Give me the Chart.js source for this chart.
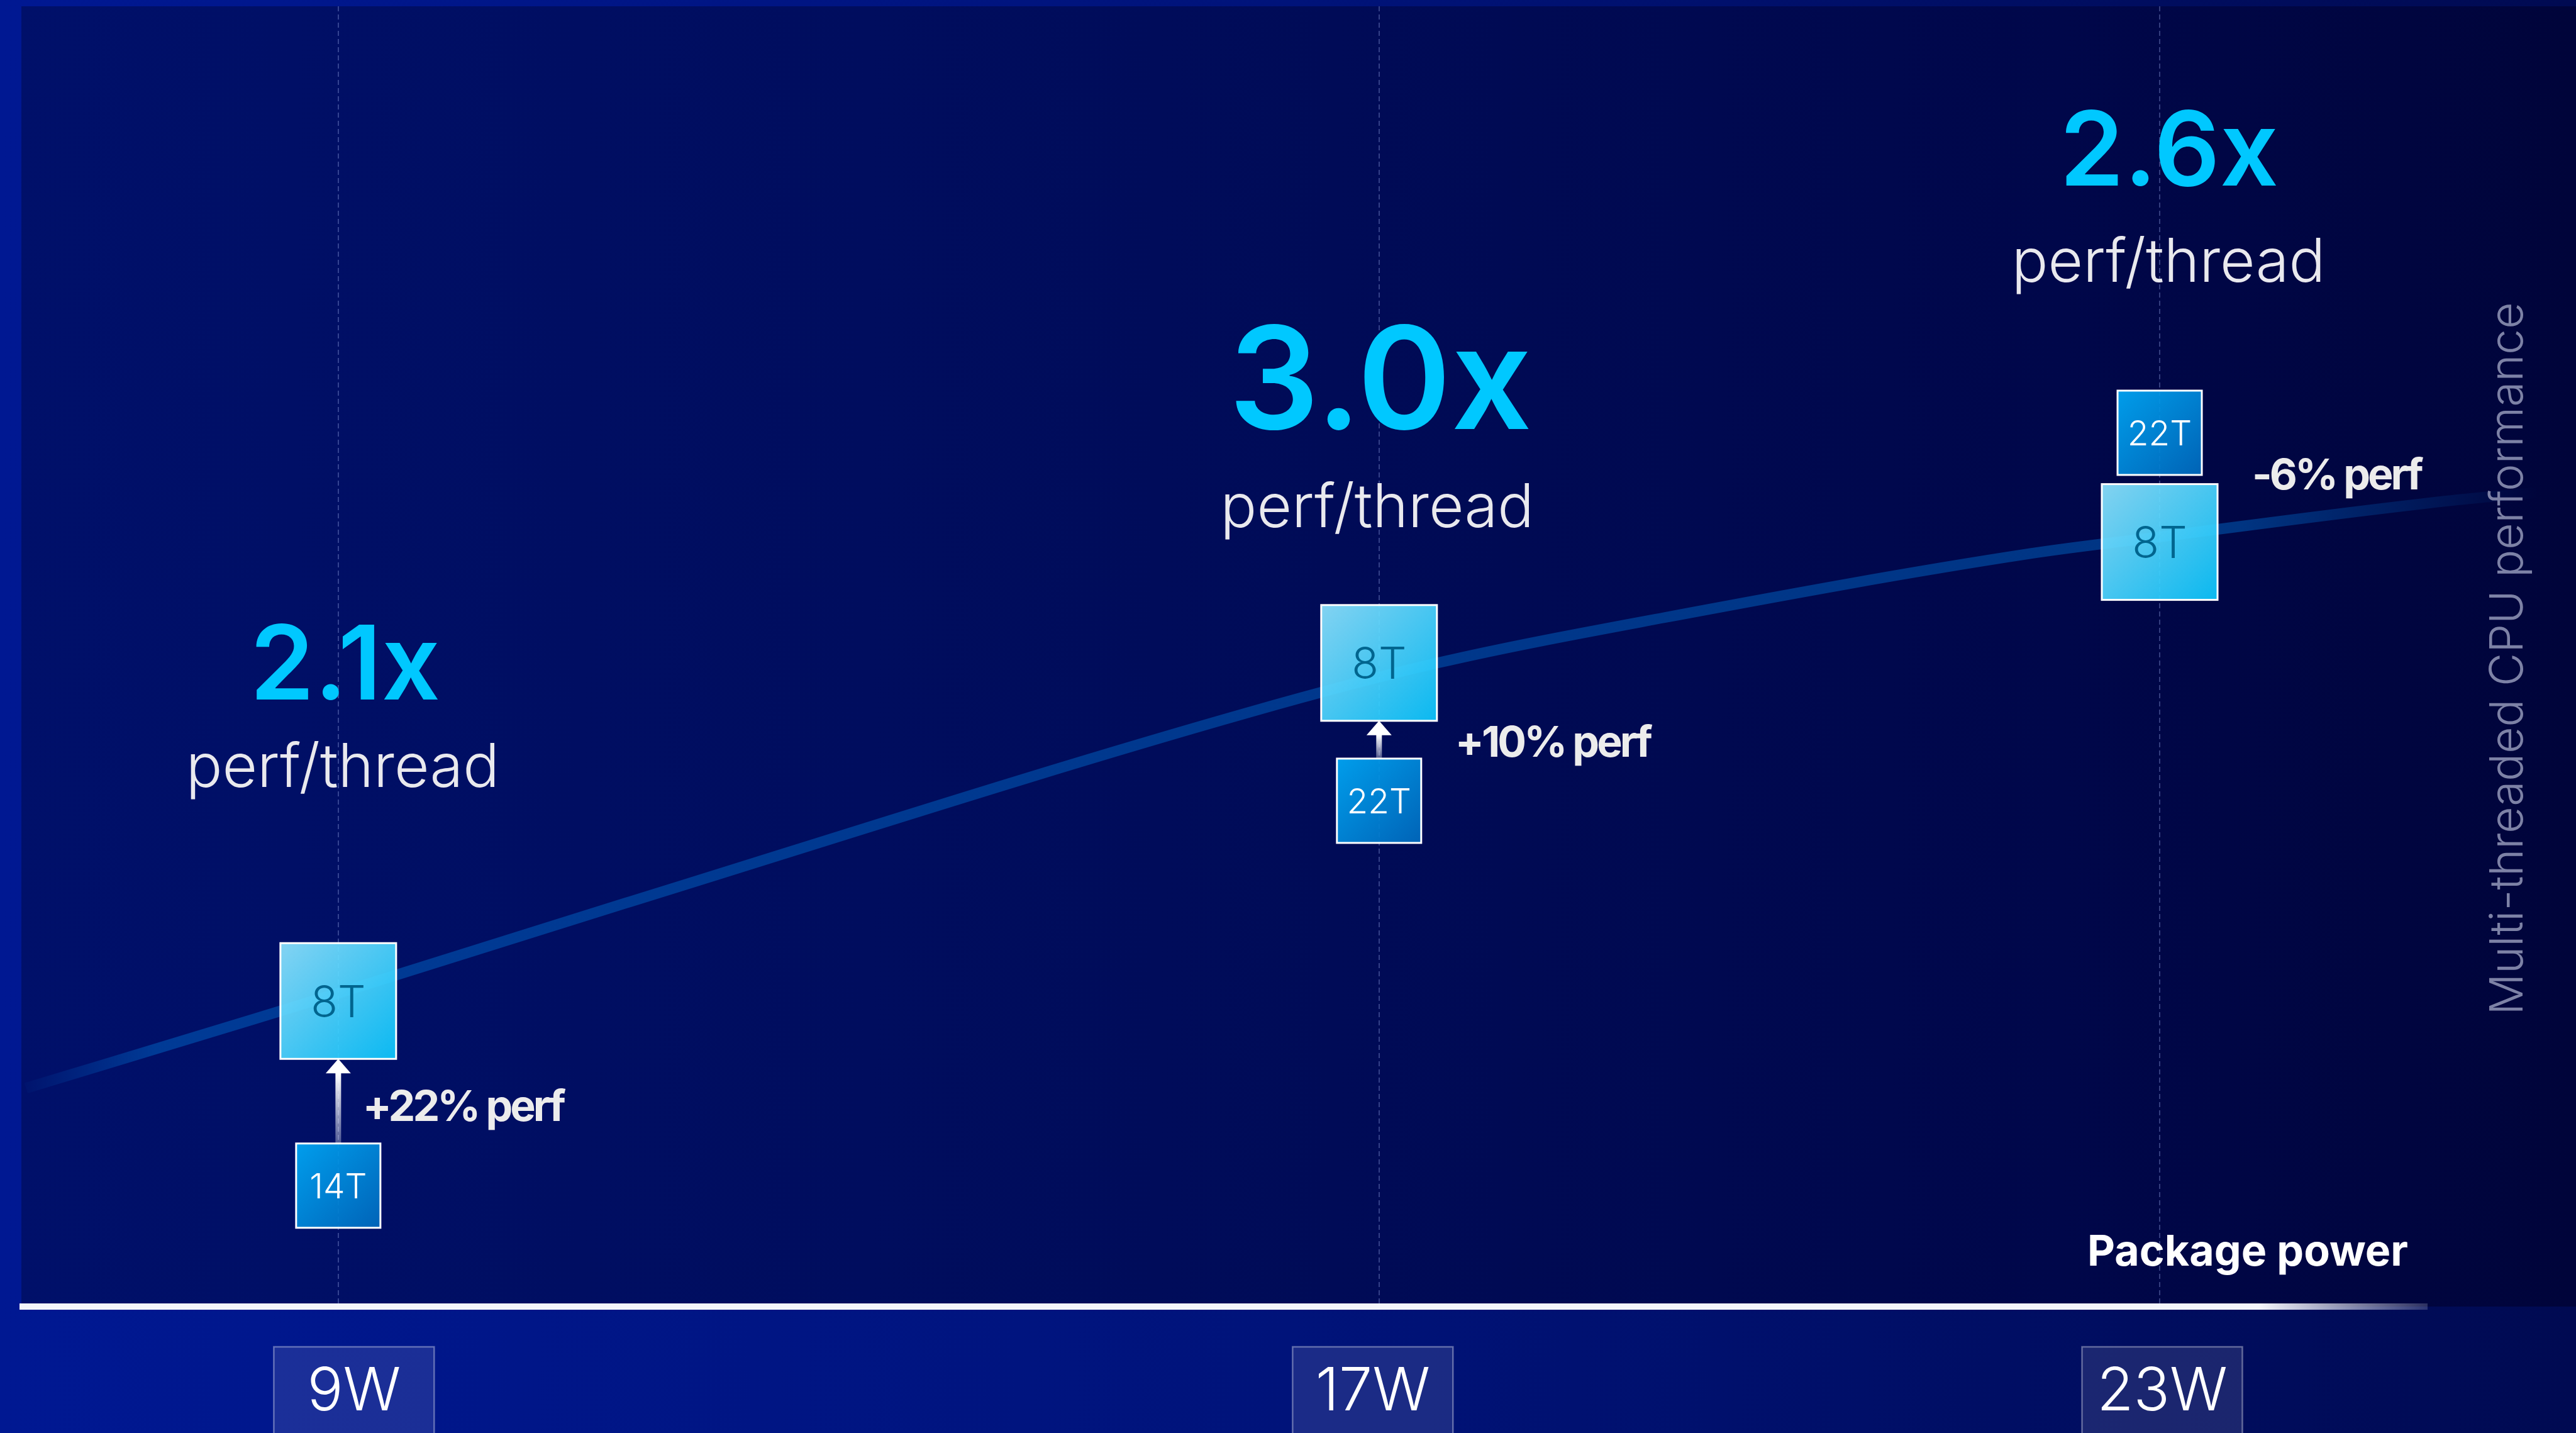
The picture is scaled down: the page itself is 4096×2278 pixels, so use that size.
<!DOCTYPE html>
<html>
<head>
<meta charset="utf-8">
<title>Package power vs multi-threaded CPU performance</title>
<script src="https://cdn.jsdelivr.net/npm/chart.js@4.4.1/dist/chart.umd.min.js"></script>
<style>
  html, body { margin: 0; padding: 0; background: #000c5c; overflow: hidden; }
  #wrap { width: 4096px; height: 2278px; }
</style>
</head>
<body>
<div id="wrap"><canvas id="perfChart" width="4096" height="2278"></canvas></div>
<script>
// Power points on the x axis (W)
const wattTicks = [9, 17, 23];
const wattLabels = ['9W', '17W', '23W'];

// Perf / power curve (relative MT performance index, 0-100)
const curveWatts = [6.6, 8.35, 9.0, 11.2, 16.0, 17.45, 19.2, 22.0, 23.0, 25.25, 25.9];
const curvePerf  = [16.8, 22.1, 24.1, 31.0, 45.7, 49.5, 53.0, 57.9, 59.2, 62.0, 62.6];

// Thread configurations at each power point
const fewThreadLabels  = ['8T', '8T', '8T'];
const fewThreadPerf    = [23.5, 49.5, 58.8];
const manyThreadLabels = ['14T', '22T', '22T'];
const manyThreadPerf   = [9.3, 38.9, 67.2];

const perfDeltaLabels = ['+22% perf', '+10% perf', '-6% perf'];
const perThreadGain   = ['2.1x', '3.0x', '2.6x'];

const FONT = 'Inter, "Noto Sans", sans-serif';
const BIG_BOX = 184;
const SMALL_BOX = 134;
const CAP = 0.727; // cap height / font size

// text placement around each power point (px, relative to the tick)
const callouts = [
    { gainDx: 11, gainY: 1112, gainSize: 164, subDx: 7,  subY: 1251, deltaDx: 39,  deltaY: 1782, tickDx: 25 },
    { gainDx: 2,  gainY: 682,  gainSize: 226, subDx: -3, subY: 838,  deltaDx: 121, deltaY: 1203, tickDx: -10 },
    { gainDx: 15, gainY: 295,  gainSize: 164, subDx: 14, subY: 448,  deltaDx: 147, deltaY: 778,  tickDx: 4 }
];

function drawBox(ctx, cx, cy, size, label, light) {
    const x = cx - size / 2, y = cy - size / 2;
    const g = ctx.createLinearGradient(x, y, x + size, y + size);
    if (light) {
        g.addColorStop(0, '#8ee4ff');
        g.addColorStop(1, '#0cc8fe');
    } else {
        g.addColorStop(0, '#00aaf8');
        g.addColorStop(1, '#006bbf');
    }
    ctx.save();
    ctx.globalAlpha = 0.92;
    ctx.fillStyle = g;
    ctx.fillRect(x, y, size, size);
    ctx.globalAlpha = 1;
    ctx.strokeStyle = '#ffffff';
    ctx.lineWidth = 3;
    ctx.strokeRect(x, y, size, size);
    const fs = light ? 70 : 55;
    ctx.font = `300 ${fs}px ${FONT}`;
    ctx.fillStyle = light ? '#00658f' : '#ffffff';
    ctx.textAlign = 'center';
    ctx.textBaseline = 'alphabetic';
    ctx.fillText(label, cx, cy + fs * CAP / 2);
    ctx.restore();
}

function drawArrow(ctx, cx, tipY, bottomY) {
    const headH = 23, headW = 40, shaft = 9;
    ctx.save();
    const g = ctx.createLinearGradient(0, tipY + headH, 0, bottomY);
    g.addColorStop(0, 'rgba(255,255,255,1)');
    g.addColorStop(1, 'rgba(255,255,255,0.3)');
    ctx.fillStyle = g;
    ctx.fillRect(cx - shaft / 2, tipY + headH - 1, shaft, bottomY - tipY - headH + 1);
    ctx.fillStyle = '#ffffff';
    ctx.beginPath();
    ctx.moveTo(cx, tipY);
    ctx.lineTo(cx + headW / 2, tipY + headH);
    ctx.lineTo(cx - headW / 2, tipY + headH);
    ctx.closePath();
    ctx.fill();
    ctx.restore();
}

// dark panel behind the plot, brighter frame around it
const backdrop = {
    id: 'backdrop',
    beforeDraw(chart) {
        const { ctx, width, height, chartArea } = chart;
        ctx.save();
        let g = ctx.createLinearGradient(0, 0, width, 0);
        g.addColorStop(0, '#001892');
        g.addColorStop(0.5, '#00137a');
        g.addColorStop(1, '#000a52');
        ctx.fillStyle = g;
        ctx.fillRect(0, 0, width, height);

        g = ctx.createLinearGradient(0, 0, width, 0);
        g.addColorStop(0, '#00106a');
        g.addColorStop(0.45, '#000c5a');
        g.addColorStop(0.8, '#00074a');
        g.addColorStop(1, '#00043a');
        ctx.fillStyle = g;
        ctx.fillRect(34, chartArea.top, width - 34, chartArea.bottom - chartArea.top);
        ctx.restore();
    }
};

// thread boxes, arrows and text callouts
const callout = {
    id: 'callout',
    afterDatasetsDraw(chart) {
        const { ctx, scales: { x, y } } = chart;
        wattTicks.forEach((w, i) => {
            const cx = x.getPixelForValue(w);
            const fewY = y.getPixelForValue(fewThreadPerf[i]);
            const manyY = y.getPixelForValue(manyThreadPerf[i]);
            const c = callouts[i];

            if (manyThreadPerf[i] < fewThreadPerf[i]) {
                drawArrow(ctx, cx, fewY + BIG_BOX / 2, manyY - SMALL_BOX / 2);
            }
            drawBox(ctx, cx, fewY, BIG_BOX, fewThreadLabels[i], true);
            drawBox(ctx, cx, manyY, SMALL_BOX, manyThreadLabels[i], false);

            ctx.save();
            ctx.textBaseline = 'alphabetic';
            ctx.textAlign = 'center';
            ctx.fillStyle = '#00c8ff';
            ctx.font = `600 ${c.gainSize}px ${FONT}`;
            ctx.fillText(perThreadGain[i], cx + c.gainDx, c.gainY);

            ctx.fillStyle = '#e9e9ee';
            ctx.font = `300 96px ${FONT}`;
            ctx.fillText('perf/thread', cx + c.subDx, c.subY);

            ctx.textAlign = 'left';
            ctx.fillStyle = '#ececec';
            ctx.font = `700 68px ${FONT}`;
            ctx.letterSpacing = '-4px';
            ctx.fillText(perfDeltaLabels[i], cx + c.deltaDx, c.deltaY);
            ctx.restore();
        });
    },
    afterDraw(chart) {
        const { ctx, chartArea, scales: { x } } = chart;
        const axisY = chartArea.bottom;
        ctx.save();

        // x axis line, fading out on the right
        const x0 = 31, x1 = 3860;
        const g = ctx.createLinearGradient(x0, 0, x1, 0);
        g.addColorStop(0, '#f4f5fb');
        g.addColorStop(0.93, '#f4f5fb');
        g.addColorStop(1, 'rgba(244,245,251,0.18)');
        ctx.fillStyle = g;
        ctx.fillRect(x0, axisY - 5, x1 - x0, 10);

        // tick labels in boxes
        wattTicks.forEach((w, i) => {
            const cx = x.getPixelForValue(w) + callouts[i].tickDx;
            const bw = 255, top = axisY + 64;
            ctx.fillStyle = 'rgba(255,255,255,0.105)';
            ctx.fillRect(cx - bw / 2, top, bw, chart.height - top + 10);
            ctx.strokeStyle = 'rgba(255,255,255,0.35)';
            ctx.lineWidth = 2.5;
            ctx.strokeRect(cx - bw / 2, top, bw, chart.height - top + 10);
            ctx.fillStyle = '#ffffff';
            ctx.font = `300 95px ${FONT}`;
            ctx.textAlign = 'center';
            ctx.textBaseline = 'alphabetic';
            ctx.fillText(wattLabels[i], cx, axisY + 165);
        });

        // axis titles
        ctx.fillStyle = '#ffffff';
        ctx.font = `700 68px ${FONT}`;
        ctx.textAlign = 'right';
        ctx.fillText('Package power', 3829, axisY - 65);

        ctx.translate(3989, 1047);
        ctx.rotate(-Math.PI / 2);
        ctx.fillStyle = '#7d82a6';
        ctx.font = `300 73px ${FONT}`;
        ctx.textAlign = 'center';
        ctx.textBaseline = 'middle';
        ctx.fillText('Multi-threaded CPU performance', 0, 0);
        ctx.restore();
    }
};

function buildChart() {
    const ctx = document.getElementById('perfChart').getContext('2d');
    new Chart(ctx, {
        type: 'line',
        data: {
            datasets: [{
                label: 'MT performance',
                data: curveWatts.map((w, i) => ({ x: w, y: curvePerf[i] })),
                borderColor: (c) => {
                    const area = c.chart.chartArea;
                    if (!area) return 'rgba(0,110,205,0.45)';
                    const g = c.chart.ctx.createLinearGradient(area.left, 0, area.right, 0);
                    g.addColorStop(0.005, 'rgba(0,110,205,0)');
                    g.addColorStop(0.06, 'rgba(0,110,205,0.45)');
                    g.addColorStop(0.87, 'rgba(0,110,205,0.45)');
                    g.addColorStop(0.985, 'rgba(0,110,205,0)');
                    return g;
                },
                borderWidth: 17,
                pointRadius: 0,
                cubicInterpolationMode: 'monotone',
                fill: false,
                clip: false
            }]
        },
        options: {
            responsive: false,
            animation: false,
            devicePixelRatio: 1,
            layout: { padding: { top: 10, bottom: 201, left: 0, right: 0 } },
            plugins: {
                legend: { display: false },
                tooltip: { enabled: false }
            },
            scales: {
                x: {
                    type: 'linear',
                    min: 6.4,
                    max: 26.2,
                    afterBuildTicks: (s) => { s.ticks = wattTicks.map(v => ({ value: v })); },
                    afterFit: (s) => { s.height = 0; },
                    ticks: { display: false },
                    grid: { color: 'rgba(150,165,230,0.35)', lineWidth: 2, drawTicks: false },
                    border: { display: false, dash: [8, 5] }
                },
                y: {
                    min: 0,
                    max: 100,
                    display: false
                }
            }
        },
        plugins: [backdrop, callout]
    });
}

const faces = ['300 96px Inter', '600 164px Inter', '700 68px Inter'];
Promise.all(faces.map(f => document.fonts.load(f))).finally(buildChart);
</script>
</body>
</html>
